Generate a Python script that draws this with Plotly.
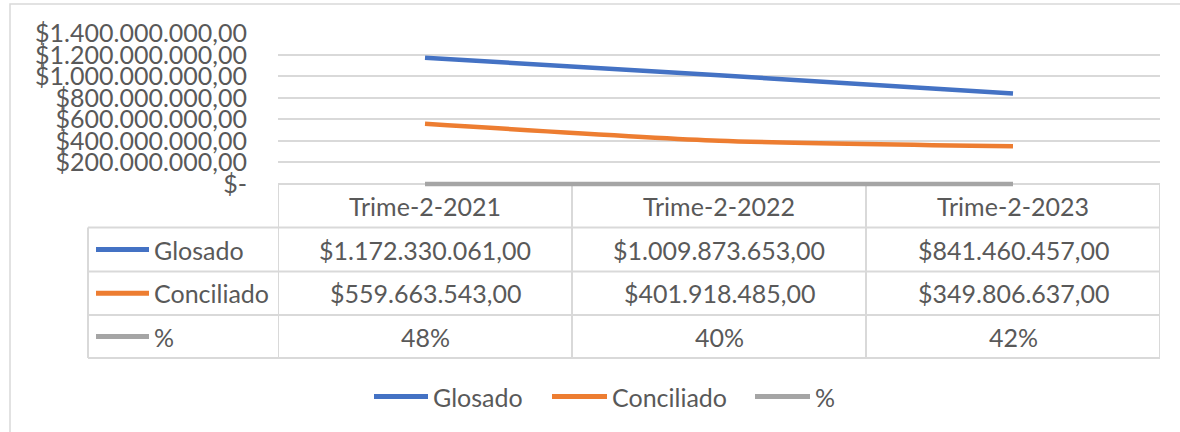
import plotly.graph_objects as go

# ---- data ----
categories = ["Trime-2-2021", "Trime-2-2022", "Trime-2-2023"]
series_names = ["Glosado", "Conciliado", "%"]
glosado = [1172330061.00, 1009873653.00, 841460457.00]
conciliado = [559663543.00, 401918485.00, 349806637.00]
porcentaje = [0.48, 0.40, 0.42]
y_tick_vals = [0, 200e6, 400e6, 600e6, 800e6, 1000e6, 1200e6, 1400e6]
y_tick_text = ["$-", "$200.000.000,00", "$400.000.000,00", "$600.000.000,00",
               "$800.000.000,00", "$1.000.000.000,00", "$1.200.000.000,00",
               "$1.400.000.000,00"]

colors = ["#4472C4", "#ED7D31", "#A5A5A5"]
W, H = 1180, 432
FONT = "Lato"
FS = 25
TXT = "#595959"
BORDER = "#D9D9D9"


def px(x):
    return x / W


def py(y):
    return 1 - y / H


def money(v):
    s = f"{v:,.2f}"
    s = s.replace(",", "X").replace(".", ",").replace("X", ".")
    return "$" + s


def pct(v):
    return f"{round(v * 100):d}%"


series_vals = [glosado, conciliado, porcentaje]
row_text = [[money(v) for v in glosado], [money(v) for v in conciliado],
            [pct(v) for v in porcentaje]]

fig = go.Figure()
xs = list(range(len(categories)))
for name, vals, col in zip(series_names, series_vals, colors):
    fig.add_trace(go.Scatter(x=xs, y=vals, name=name, mode="lines",
                             line=dict(color=col, width=4.5, shape="spline", smoothing=0.6),
                             showlegend=False, hoverinfo="skip"))

shapes = []
annotations = []

# outer chart border
shapes.append(dict(type="rect", xref="paper", yref="paper", x0=px(10), x1=px(1195),
                   y0=py(445), y1=py(4), line=dict(color=BORDER, width=1.5),
                   layer="below"))

# table geometry (pixel rows)
row_y = [184, 227.5, 271.5, 315, 358]
left_x = 88
col_edges = [-0.5, 0.5, 1.5, 2.5]

shapes.append(dict(type="line", xref="x", yref="paper", x0=-0.5, x1=2.5,
                   y0=py(row_y[0]), y1=py(row_y[0]), line=dict(color=BORDER, width=2),
                   layer="below"))
for yy in row_y[1:]:
    shapes.append(dict(type="line", xref="paper", yref="paper", x0=px(left_x), x1=px(1160),
                       y0=py(yy), y1=py(yy), line=dict(color=BORDER, width=2)))
for xe in col_edges:
    shapes.append(dict(type="line", xref="x", yref="paper", x0=xe, x1=xe,
                       y0=py(row_y[0]), y1=py(row_y[-1]), line=dict(color=BORDER, width=2),
                       layer="below"))
shapes.append(dict(type="line", xref="paper", yref="paper", x0=px(left_x), x1=px(left_x),
                   y0=py(row_y[1]), y1=py(row_y[-1]), line=dict(color=BORDER, width=2)))

for i, c in enumerate(categories):
    annotations.append(dict(x=i, y=py((row_y[0] + row_y[1]) / 2), xref="x", yref="paper",
                            text=c, showarrow=False, xanchor="center", yanchor="middle",
                            font=dict(family=FONT, size=FS, color=TXT)))
for r, (name, col, texts) in enumerate(zip(series_names, colors, row_text)):
    yc = (row_y[r + 1] + row_y[r + 2]) / 2
    shapes.append(dict(type="line", xref="paper", yref="paper", x0=px(96), x1=px(149),
                       y0=py(yc), y1=py(yc), line=dict(color=col, width=5)))
    annotations.append(dict(x=px(152), y=py(yc), xref="paper", yref="paper", text=name,
                            showarrow=False, xanchor="left", yanchor="middle",
                            font=dict(family=FONT, size=FS, color=TXT)))
    for i, t in enumerate(texts):
        annotations.append(dict(x=i, y=py(yc), xref="x", yref="paper", text=t,
                                showarrow=False, xanchor="center", yanchor="middle",
                                font=dict(family=FONT, size=FS, color=TXT)))

# bottom legend
leg_y = 396.5
leg_pos = [(374, 428, 431), (552, 607, 610), (755, 810, 813)]
for (x0, x1, xt), name, col in zip(leg_pos, series_names, colors):
    shapes.append(dict(type="line", xref="paper", yref="paper", x0=px(x0), x1=px(x1),
                       y0=py(leg_y), y1=py(leg_y), line=dict(color=col, width=5)))
    annotations.append(dict(x=px(xt), y=py(leg_y), xref="paper", yref="paper", text=name,
                            showarrow=False, xanchor="left", yanchor="middle",
                            font=dict(family=FONT, size=FS, color=TXT)))

# y range extends slightly below zero so the zero-valued line is not clipped
y_lo = -30e6
px_per_unit = (184 - 33.3) / 1.4e9
bottom_px = 184 + (-y_lo) * px_per_unit

fig.update_layout(
    width=W, height=H,
    margin=dict(l=0, r=0, t=0, b=0),
    paper_bgcolor="white", plot_bgcolor="white",
    showlegend=False,
    shapes=shapes, annotations=annotations,
    xaxis=dict(domain=[px(278), px(1160)], range=[-0.5, 2.5], showgrid=False,
               zeroline=False, showticklabels=False, showline=False, ticks="",
               automargin=False, fixedrange=True),
    yaxis=dict(domain=[py(bottom_px), py(33.3)], range=[y_lo, 1.4e9], tickvals=y_tick_vals,
               ticktext=y_tick_text, showgrid=True, gridcolor=BORDER, gridwidth=1.5,
               zeroline=False, showline=False, ticks="", ticklabelstandoff=30,
               tickfont=dict(family=FONT, size=FS, color=TXT), automargin=False,
               fixedrange=True),
)

fig.write_html("out.html", config={"displayModeBar": False},
               post_script="document.body.style.margin='0px';")
